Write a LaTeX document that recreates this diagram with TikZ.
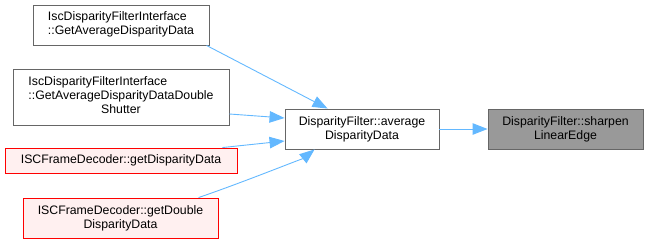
\documentclass[tikz,border=0pt]{standalone}
\usepackage{fontspec}
\setmainfont{Liberation Sans}
\usetikzlibrary{arrows.meta,calc}
\definecolor{edgeblue}{HTML}{63B8FF}
\definecolor{boxgray}{HTML}{666666}
\definecolor{hlfill}{HTML}{999999}
\definecolor{redfill}{HTML}{FFF0F0}
\begin{document}
\begin{tikzpicture}[x=1pt,y=-1pt,
  fn/.style={draw=boxgray,fill=white,line width=0.9pt,inner sep=0pt,align=center,
    font=\fontsize{12.3}{14}\selectfont},
  caller/.style={fn,draw=red,fill=redfill},
  current/.style={fn,fill=hlfill},
  call/.style={draw=edgeblue,line width=0.9pt,-{Triangle[length=15pt,width=11.5pt]}}]
\useasboundingbox (0,0) rectangle (649,244);
\node[fn,minimum width=176pt,minimum height=40pt] (A) at (121,25)
  {\begin{tabular}{@{}l@{}}IscDisparityFilterInterface\\::GetAverageDisparityData\end{tabular}};
\node[fn,minimum width=216pt,minimum height=56pt] (B) at (121,97)
  {\begin{tabular}{@{}l@{}}IscDisparityFilterInterface\\::GetAverageDisparityDataDouble\\\multicolumn{1}{@{}c@{}}{Shutter}\end{tabular}};
\node[caller,minimum width=232pt,minimum height=25pt] (C) at (121,160.5)
  {ISCFrameDecoder::getDisparityData};
\node[caller,minimum width=195pt,minimum height=40pt] (D) at (120.5,218)
  {ISCFrameDecoder::getDouble\\DisparityData};
\node[fn,minimum width=154pt,minimum height=40pt] (E) at (362,129)
  {DisparityFilter::average\\DisparityData};
\node[current,minimum width=155pt,minimum height=40pt] (F) at (565.5,129)
  {DisparityFilter::sharpen\\LinearEdge};
\draw[call] ($(A.south west)+(174,0)$) -- ($(E.north west)+(43,0)$);
\draw[call] ($(B.east)+(0,17)$) -- ($(E.west)+(0,-11)$);
\draw[call] ($(C.north east)+(-15,0)$) -- ($(E.west)+(0,12)$);
\draw[call] ($(D.north west)+(176,0)$) .. controls ($(D.north west)+(220,-15)$) and ($(E.south west)+(20,8)$) .. ($(E.south west)+(30,0)$);
\draw[call] (E) -- (F);
\end{tikzpicture}
\end{document}
